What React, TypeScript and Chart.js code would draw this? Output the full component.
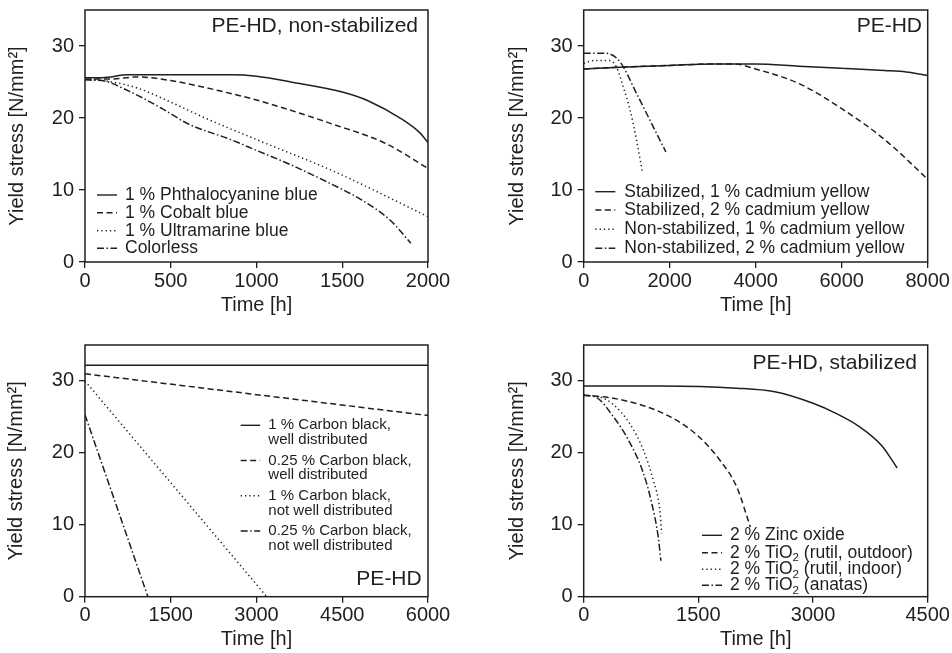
import React, { useEffect, useRef } from "react";
import { Chart, registerables } from "chart.js";

Chart.register(...registerables);

const INK = "#1f1f1f";
const FONT = "'Liberation Sans', Arial, Helvetica, sans-serif";

// ---------- shared ----------
const yTicks = [0, 10, 20, 30];
const yMax = 35;
const xTitle = "Time [h]";
const yTitle = "Yield stress [N/mm²]";

// ---------- Panel 1: PE-HD, non-stabilized ----------
const p1Tag = "PE-HD, non-stabilized";
const p1XTicks = [0, 500, 1000, 1500, 2000];
const p1Labels = [["1 % Phthalocyanine blue"], ["1 % Cobalt blue"], ["1 % Ultramarine blue"], ["Colorless"]];
const p1PhthaloT = [0, 100, 250, 500, 850, 1000, 1200, 1500, 1650, 1850, 1950, 2000];
const p1PhthaloY = [25.6, 25.6, 26.0, 26.0, 26.0, 25.8, 25.0, 23.6, 22.4, 19.8, 18.0, 16.6];
const p1CobaltT = [0, 150, 300, 500, 850, 1000, 1450, 1750, 2000];
const p1CobaltY = [25.4, 25.4, 25.7, 25.2, 23.4, 22.5, 19.1, 16.5, 13.0];
const p1UltraT = [0, 100, 300, 500, 700, 1000, 1450, 2000];
const p1UltraY = [25.3, 25.2, 24.2, 22.2, 20.0, 17.0, 12.6, 6.3];
const p1ColorlessT = [0, 100, 250, 450, 600, 850, 1000, 1200, 1430, 1600, 1780, 1900];
const p1ColorlessY = [25.3, 25.2, 23.8, 21.3, 19.2, 17.0, 15.5, 13.5, 10.9, 8.8, 5.8, 2.6];

// ---------- Panel 2: PE-HD cadmium yellow ----------
const p2Tag = "PE-HD";
const p2XTicks = [0, 2000, 4000, 6000, 8000];
const p2Labels = [
  ["Stabilized, 1 % cadmium yellow"],
  ["Stabilized, 2 % cadmium yellow"],
  ["Non-stabilized, 1 % cadmium yellow"],
  ["Non-stabilized, 2 % cadmium yellow"],
];
const p2Stab1T = [0, 1000, 2000, 3000, 4000, 5000, 6000, 7000, 7500, 8000];
const p2Stab1Y = [26.8, 27.1, 27.3, 27.5, 27.5, 27.2, 26.9, 26.6, 26.4, 25.9];
const p2Stab2T = [0, 1000, 2000, 3000, 3500, 4000, 5000, 6000, 7000, 8000];
const p2Stab2Y = [26.8, 27.1, 27.3, 27.5, 27.5, 26.8, 24.8, 21.3, 17.0, 11.5];
const p2Non1T = [0, 250, 600, 760, 920, 1080, 1230, 1370];
const p2Non1Y = [27.6, 28.0, 28.0, 27.1, 24.3, 21.1, 16.9, 12.3];
const p2Non2T = [0, 500, 770, 920, 1230, 1540, 1910];
const p2Non2Y = [29.0, 29.0, 28.3, 27.1, 23.4, 19.7, 15.3];

// ---------- Panel 3: carbon black ----------
const p3Tag = "PE-HD";
const p3XTicks = [0, 1500, 3000, 4500, 6000];
const p3Labels = [
  ["1 % Carbon black,", "well distributed"],
  ["0.25 % Carbon black,", "well distributed"],
  ["1 % Carbon black,", "not well distributed"],
  ["0.25 % Carbon black,", "not well distributed"],
];
const p3WellT = [0, 6000];
const p3WellY = [32.2, 32.2];
const p3Well025T = [0, 6000];
const p3Well025Y = [31.0, 25.2];
const p3NotWellT = [0, 3180];
const p3NotWellY = [30.0, 0];
const p3NotWell025T = [0, 1100];
const p3NotWell025Y = [25.3, 0];

// ---------- Panel 4: PE-HD, stabilized ----------
const p4Tag = "PE-HD, stabilized";
const p4XTicks = [0, 1500, 3000, 4500];
const p4Labels = [["2 % Zinc oxide"], ["2 % TiO₂ (rutil, outdoor)"], ["2 % TiO₂ (rutil, indoor)"], ["2 % TiO₂ (anatas)"]];
const p4ZincT = [0, 1000, 2000, 2500, 3000, 3300, 3600, 3900, 4100];
const p4ZincY = [29.3, 29.3, 29.0, 28.5, 26.9, 25.5, 23.7, 21.0, 17.9];
const p4OutT = [0, 390, 1040, 1480, 1780, 2000, 2180];
const p4OutY = [28.0, 27.6, 25.5, 22.5, 19.0, 15.3, 9.7];
const p4InT = [0, 200, 390, 600, 780, 910, 995, 1020];
const p4InY = [28.0, 27.8, 26.7, 24.1, 20.4, 16.2, 12.1, 8.8];
const p4AnatasT = [0, 150, 390, 600, 780, 890, 975, 1010];
const p4AnatasY = [28.0, 27.8, 25.0, 21.5, 17.2, 13.0, 8.3, 5.0];

// ---------- styles ----------
const DASH: Record<string, number[]> = {
  solid: [],
  dashed: [6, 3.5],
  dotted: [1.3, 3],
  dashdot: [7, 2.5, 1.5, 2.5],
};
const STYLES = ["solid", "dashed", "dotted", "dashdot"];

type Series = { t: number[]; y: number[] };
type PanelCfg = {
  left: number;
  top: number;
  w: number;
  h: number;
  area: { l: number; t: number; r: number; b: number };
  xMax: number;
  xTicks: number[];
  yTitlePad: number;
  xTitlePad: number;
  series: Series[];
  labels: string[][];
  legend: { sx: number; sw: number; tx: number; rows: number[]; lineGap: number; font: number };
  tag: { text: string; x: number; y: number };
};

const panels: PanelCfg[] = [
  {
    left: 0, top: 0, w: 476, h: 326,
    area: { l: 85, t: 10, r: 428, b: 262 },
    xMax: 2000, xTicks: p1XTicks, yTitlePad: 5, xTitlePad: 9,
    series: [
      { t: p1PhthaloT, y: p1PhthaloY },
      { t: p1CobaltT, y: p1CobaltY },
      { t: p1UltraT, y: p1UltraY },
      { t: p1ColorlessT, y: p1ColorlessY },
    ],
    labels: p1Labels,
    legend: { sx: 97, sw: 20, tx: 125, rows: [195, 212.7, 230.7, 248.3], lineGap: 15, font: 17.5 },
    tag: { text: p1Tag, x: 418, y: 26.7 },
  },
  {
    left: 476, top: 0, w: 476, h: 326,
    area: { l: 107.7, t: 10, r: 451.7, b: 262 },
    xMax: 8000, xTicks: p2XTicks, yTitlePad: 29.7, xTitlePad: 9,
    series: [
      { t: p2Stab1T, y: p2Stab1Y },
      { t: p2Stab2T, y: p2Stab2Y },
      { t: p2Non1T, y: p2Non1Y },
      { t: p2Non2T, y: p2Non2Y },
    ],
    labels: p2Labels,
    legend: { sx: 119.3, sw: 20, tx: 148.3, rows: [191.7, 210, 229.3, 248.3], lineGap: 15, font: 17.5 },
    tag: { text: p2Tag, x: 446, y: 26.7 },
  },
  {
    left: 0, top: 326, w: 476, h: 327,
    area: { l: 85, t: 19, r: 428, b: 270.7 },
    xMax: 6000, xTicks: p3XTicks, yTitlePad: 4.7, xTitlePad: 1.7,
    series: [
      { t: p3WellT, y: p3WellY },
      { t: p3Well025T, y: p3Well025Y },
      { t: p3NotWellT, y: p3NotWellY },
      { t: p3NotWell025T, y: p3NotWell025Y },
    ],
    labels: p3Labels,
    legend: { sx: 240.7, sw: 19.5, tx: 268.3, rows: [99.3, 134.5, 169.8, 205], lineGap: 14.7, font: 15 },
    tag: { text: p3Tag, x: 421.7, y: 253.3 },
  },
  {
    left: 476, top: 326, w: 476, h: 327,
    area: { l: 107.7, t: 19, r: 451.7, b: 270.7 },
    xMax: 4500, xTicks: p4XTicks, yTitlePad: 29.7, xTitlePad: 1.7,
    series: [
      { t: p4ZincT, y: p4ZincY },
      { t: p4OutT, y: p4OutY },
      { t: p4InT, y: p4InY },
      { t: p4AnatasT, y: p4AnatasY },
    ],
    labels: p4Labels,
    legend: { sx: 226, sw: 20, tx: 254, rows: [209.3, 226.7, 243.3, 259.3], lineGap: 15, font: 17.5 },
    tag: { text: p4Tag, x: 441, y: 37.3 },
  },
];

function drawRich(ctx: CanvasRenderingContext2D, text: string, x: number, y: number, size: number) {
  const parts = text.split("₂");
  let cx = x;
  ctx.textAlign = "left";
  ctx.textBaseline = "middle";
  parts.forEach((p, i) => {
    ctx.font = `${size}px ${FONT}`;
    ctx.fillText(p, cx, y);
    cx += ctx.measureText(p).width;
    if (i < parts.length - 1) {
      const s = size * 0.66;
      ctx.font = `${s}px ${FONT}`;
      ctx.fillText("2", cx, y + size * 0.3);
      cx += ctx.measureText("2").width;
    }
  });
}

function buildConfig(cfg: PanelCfg): any {
  const deco = {
    id: "deco",
    afterDatasetsDraw(chart: any) {
      const { ctx, chartArea: a } = chart;
      ctx.save();
      ctx.strokeStyle = INK;
      ctx.lineWidth = 1.5;
      ctx.setLineDash([]);
      ctx.strokeRect(a.left, a.top, a.right - a.left, a.bottom - a.top);
      ctx.fillStyle = INK;
      ctx.font = `21px ${FONT}`;
      ctx.textAlign = "right";
      ctx.textBaseline = "middle";
      ctx.fillText(cfg.tag.text, cfg.tag.x, cfg.tag.y);
      const L = cfg.legend;
      cfg.labels.forEach((lines, i) => {
        const y0 = L.rows[i];
        ctx.beginPath();
        ctx.setLineDash(DASH[STYLES[i]]);
        ctx.lineWidth = 1.4;
        ctx.moveTo(L.sx, y0);
        ctx.lineTo(L.sx + L.sw, y0);
        ctx.stroke();
        ctx.setLineDash([]);
        lines.forEach((line, j) => drawRich(ctx, line, L.tx, y0 + j * L.lineGap, L.font));
      });
      ctx.restore();
    },
  };

  const datasets = cfg.series.map((s, i) => ({
    label: cfg.labels[i].join(" "),
    data: s.t.map((x, k) => ({ x, y: s.y[k] })),
    borderColor: INK,
    borderWidth: 1.5,
    borderDash: DASH[STYLES[i]],
    pointRadius: 0,
    fill: false,
    tension: 0.4,
    cubicInterpolationMode: "monotone",
  }));

  const tickFont = { family: FONT, size: 20, lineHeight: 1 };
  const grid = {
    display: true,
    drawOnChartArea: false,
    drawTicks: true,
    tickLength: 6,
    color: INK,
    lineWidth: 1.3,
  };
  const plain = (v: any) => String(v);

  return {
    type: "line",
    data: { datasets },
    options: {
      animation: false,
      responsive: false,
      maintainAspectRatio: false,
      layout: {
        padding: { left: 0, top: cfg.area.t, right: cfg.w - cfg.area.r, bottom: 0 },
      },
      plugins: { legend: { display: false }, tooltip: { enabled: false }, title: { display: false } },
      scales: {
        x: {
          type: "linear",
          min: 0,
          max: cfg.xMax,
          afterBuildTicks: (s: any) => {
            s.ticks = cfg.xTicks.map((v) => ({ value: v }));
          },
          afterFit: (s: any) => {
            s.height = cfg.h - cfg.area.b;
            s.paddingLeft = 0;
            s.paddingRight = 0;
          },
          ticks: { font: tickFont, color: INK, padding: 3, maxRotation: 0, autoSkip: false, callback: plain },
          grid,
          border: { display: false },
          title: {
            display: true,
            text: xTitle,
            color: INK,
            font: { family: FONT, size: 20 },
            padding: { top: 0, bottom: cfg.xTitlePad },
          },
        },
        y: {
          type: "linear",
          min: 0,
          max: yMax,
          afterBuildTicks: (s: any) => {
            s.ticks = yTicks.map((v) => ({ value: v }));
          },
          afterFit: (s: any) => {
            s.width = cfg.area.l;
            s.paddingTop = 0;
            s.paddingBottom = 0;
          },
          ticks: { font: tickFont, color: INK, padding: 5, autoSkip: false, callback: plain },
          grid,
          border: { display: false },
          title: {
            display: true,
            text: yTitle,
            color: INK,
            font: { family: FONT, size: 20 },
            padding: { top: cfg.yTitlePad, bottom: 0 },
          },
        },
      },
    },
    plugins: [deco],
  };
}

function Panel({ cfg }: { cfg: PanelCfg }) {
  const ref = useRef<HTMLCanvasElement>(null);
  useEffect(() => {
    const chart = new Chart(ref.current as HTMLCanvasElement, buildConfig(cfg));
    return () => chart.destroy();
  }, [cfg]);
  return (
    <canvas
      ref={ref}
      width={cfg.w}
      height={cfg.h}
      style={{ position: "absolute", left: cfg.left, top: cfg.top, width: cfg.w, height: cfg.h }}
    />
  );
}

export default function App() {
  return (
    <div style={{ position: "absolute", left: 0, top: 0, width: 952, height: 653, background: "#fff" }}>
      {panels.map((p, i) => (
        <Panel key={i} cfg={p} />
      ))}
    </div>
  );
}
